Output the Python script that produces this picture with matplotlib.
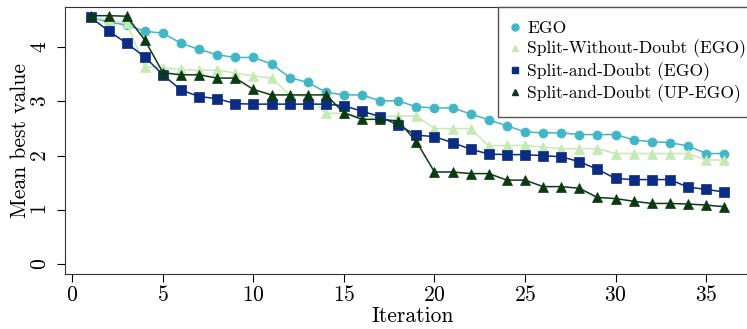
import matplotlib
matplotlib.use("Agg")
import matplotlib.pyplot as plt
from matplotlib.lines import Line2D

plt.rcParams['font.family'] = 'cmr10'
plt.rcParams['mathtext.fontset'] = 'cm'
plt.rcParams['axes.formatter.use_mathtext'] = True

iterations = list(range(1, 37))

ego = [4.55, 4.46, 4.41, 4.29, 4.26, 4.07, 3.96, 3.86, 3.81, 3.81,
       3.69, 3.44, 3.35, 3.17, 3.12, 3.12, 3.01, 3.01, 2.90, 2.88,
       2.88, 2.77, 2.66, 2.55, 2.44, 2.42, 2.42, 2.39, 2.39, 2.39,
       2.29, 2.26, 2.24, 2.18, 2.04, 2.04]
split_without = [4.55, 4.50, 4.44, 3.64, 3.62, 3.59, 3.57, 3.58, 3.52, 3.47,
                 3.43, 3.12, 3.09, 2.78, 2.78, 2.72, 2.72, 2.73, 2.73, 2.50,
                 2.50, 2.50, 2.18, 2.19, 2.19, 2.16, 2.13, 2.13, 2.13, 2.04,
                 2.04, 2.04, 2.04, 2.04, 1.92, 1.92]
split_doubt = [4.55, 4.30, 4.07, 3.82, 3.49, 3.21, 3.09, 3.05, 2.96, 2.95,
               2.95, 2.95, 2.95, 2.95, 2.92, 2.82, 2.72, 2.56, 2.38, 2.35,
               2.24, 2.12, 2.03, 2.02, 2.02, 2.00, 1.98, 1.89, 1.75, 1.58,
               1.56, 1.56, 1.56, 1.42, 1.38, 1.33]
split_doubt_up = [4.58, 4.58, 4.57, 4.13, 3.53, 3.49, 3.49, 3.43, 3.43, 3.22,
                  3.12, 3.12, 3.12, 3.12, 2.79, 2.67, 2.67, 2.64, 2.26, 1.70,
                  1.70, 1.67, 1.67, 1.55, 1.55, 1.43, 1.43, 1.40, 1.23, 1.21,
                  1.16, 1.12, 1.12, 1.11, 1.09, 1.06]

labels = ['EGO', 'Split-Without-Doubt (EGO)', 'Split-and-Doubt (EGO)',
          'Split-and-Doubt (UP-EGO)']
colors = ['#41b6c4', '#c7e9b4', '#0c2c84', '#0b3a12']
markers = ['o', '^', 's', '^']
series = [ego, split_without, split_doubt, split_doubt_up]

fig = plt.figure(figsize=(7.47, 3.29), dpi=100)
# axes run a bit past the right edge, like the original crop
ax = fig.add_axes([65 / 747, 1 - 274 / 329, (760 - 65) / 747, (274 - 7) / 329])

handles = []
for ys, c, m, lab in zip(series, colors, markers, labels):
    ax.plot(iterations, ys, color=c, marker=m, markersize=7 if m != 'o' else 6.5,
            linewidth=1.1, markeredgewidth=0.5, markeredgecolor=c)
    handles.append(Line2D([], [], color=c, marker=m, linestyle='none',
                          markersize=5, label=lab))

ax.set_xlim(-0.41, 37.98)
ax.set_ylim(-0.18, 4.74)
ax.set_xticks([0, 5, 10, 15, 20, 25, 30, 35])
ax.set_yticks([0, 1, 2, 3, 4])
ax.tick_params(direction='out', length=6, labelsize=15.5)
ax.tick_params(axis='x', pad=2)
ax.tick_params(axis='y', labelrotation=90, pad=5)
for t in ax.get_yticklabels():
    t.set_va('center')
ax.set_xlabel('Iteration', fontsize=15.5, labelpad=1)
ax.set_ylabel('Mean best value', fontsize=15.5, labelpad=0)
for s in ax.spines.values():
    s.set_color('#333333')

leg = ax.legend(handles=handles, loc='upper right', fontsize=12.6,
                fancybox=False, edgecolor='#555555', framealpha=1,
                borderaxespad=0, handlelength=0.35, handletextpad=0.5,
                labelspacing=0.2, borderpad=0.8)
leg.get_frame().set_linewidth(1.0)

fig.savefig('out.png', dpi=100)
